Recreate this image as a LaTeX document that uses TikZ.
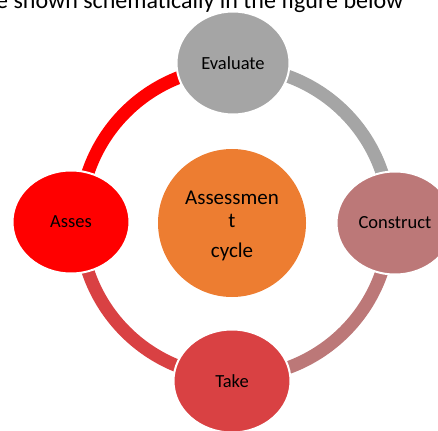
\documentclass[tikz,border=0pt]{standalone}
\usepackage{fontspec}
\setmainfont{Carlito}
\usetikzlibrary{shapes.geometric}
\definecolor{cgray}{HTML}{A5A5A5}
\definecolor{crose}{HTML}{BC7878}
\definecolor{ctake}{HTML}{D94143}
\definecolor{cred}{HTML}{FF0000}
\definecolor{corange}{HTML}{ED7D31}
\tikzset{
  stage/.style={ellipse, draw=white, line width=2pt, minimum width=117pt, minimum height=103pt, inner sep=0pt, text=black, font=\fontsize{18.5}{21}\selectfont},
  ringseg/.style={line width=13pt},
}
\begin{document}
\begin{tikzpicture}[x=1pt,y=-1pt]
\useasboundingbox (0,0) rectangle (438,430);
\node[anchor=base west, inner sep=0pt, font=\fontsize{24}{28}\selectfont] (caption) at (-4,8.5) {e shown schematically in the figure below};
\coordinate (ring) at (235,222);
\draw[ringseg, cred] (ring) ++(180:155) arc[start angle=180, end angle=270, radius=155];
\draw[ringseg, cgray] (ring) ++(270:155) arc[start angle=270, end angle=360, radius=155];
\draw[ringseg, crose] (ring) ++(0:155) arc[start angle=0, end angle=90, radius=155];
\draw[ringseg, ctake] (ring) ++(90:155) arc[start angle=90, end angle=180, radius=155];
\node[stage, fill=cgray, minimum width=113pt] (evaluate) at (233,63) {Evaluate};
\node[stage, fill=crose] (construct) at (395,223) {Construct};
\node[stage, fill=ctake] (take) at (232,381) {Take};
\node[stage, fill=cred] (asses) at (71,222) {Asses};
\node[circle, fill=corange, minimum size=148pt, inner sep=0pt, align=center, font=\fontsize{21}{23}\selectfont] (center) at (232,223) {};
\node[align=center, inner sep=0pt, font=\fontsize{21}{23}\selectfont] (centertext) at (232,226) {Assessmen\\t\\[7pt]cycle};
\end{tikzpicture}
\end{document}
